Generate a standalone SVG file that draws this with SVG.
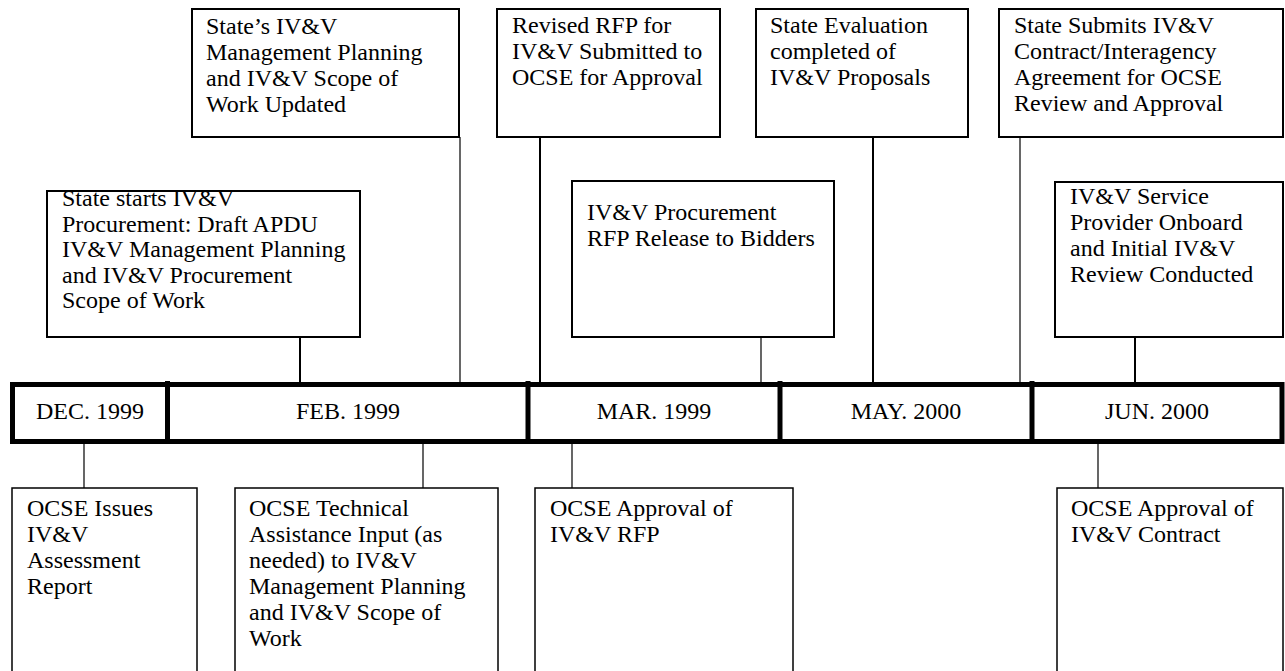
<svg xmlns="http://www.w3.org/2000/svg" width="1285" height="671" viewBox="0 0 1285 671">
<style>
text{font-family:"Liberation Serif","Times New Roman",serif;font-size:24px;fill:#000}
.box{fill:#fff;stroke:#000;stroke-width:2}
.boxb{fill:#fff;stroke:#000;stroke-width:1.5}
.c1{stroke:#000;stroke-width:1.2;fill:none}
.c2{stroke:#000;stroke-width:2;fill:none}
.bar{fill:none;stroke:#000;stroke-width:5}
.mid{text-anchor:middle}
</style>
<rect width="1285" height="671" fill="#fff"/>
<g id="connectors">
<line class="c2" x1="300" y1="337" x2="300" y2="383"/>
<line class="c1" x1="460" y1="137" x2="460" y2="383"/>
<line class="c2" x1="540" y1="137" x2="540" y2="383"/>
<line class="c1" x1="761" y1="337" x2="761" y2="383"/>
<line class="c2" x1="873" y1="137" x2="873" y2="383"/>
<line class="c1" x1="1020" y1="137" x2="1020" y2="383"/>
<line class="c2" x1="1135" y1="337" x2="1135" y2="383"/>
<line class="c1" x1="84" y1="443" x2="84" y2="488"/>
<line class="c1" x1="423" y1="443" x2="423" y2="488"/>
<line class="c1" x1="572" y1="443" x2="572" y2="488"/>
<line class="c1" x1="1098" y1="443" x2="1098" y2="488"/>
</g>
<g id="timeline">
<rect class="bar" x="12.5" y="384.5" width="1269.5" height="57"/>
<line class="bar" x1="167.5" y1="381" x2="167.5" y2="444"/>
<line class="bar" x1="528" y1="381" x2="528" y2="444"/>
<line class="bar" x1="780" y1="381" x2="780" y2="444"/>
<line class="bar" x1="1032" y1="381" x2="1032" y2="444"/>
<text class="mid" x="90" y="419">DEC. 1999</text>
<text class="mid" x="348" y="419">FEB. 1999</text>
<text class="mid" x="654" y="419">MAR. 1999</text>
<text class="mid" x="906" y="419">MAY. 2000</text>
<text class="mid" x="1157" y="419">JUN. 2000</text>
</g>
<g id="t1">
<rect class="box" x="192" y="9" width="267" height="128"/>
<text x="206" y="34">State’s IV&amp;V</text>
<text x="206" y="60">Management Planning</text>
<text x="206" y="86">and IV&amp;V Scope of</text>
<text x="206" y="112">Work Updated</text>
</g>
<g id="t2">
<rect class="box" x="497" y="9" width="223" height="128"/>
<text x="512" y="33">Revised RFP for</text>
<text x="512" y="59">IV&amp;V Submitted to</text>
<text x="512" y="85">OCSE for Approval</text>
</g>
<g id="t3">
<rect class="box" x="756" y="9" width="212" height="128"/>
<text x="770" y="33">State Evaluation</text>
<text x="770" y="59">completed of</text>
<text x="770" y="85">IV&amp;V Proposals</text>
</g>
<g id="t4">
<rect class="box" x="999" y="9" width="284" height="128"/>
<text x="1014" y="33">State Submits IV&amp;V</text>
<text x="1014" y="59">Contract/Interagency</text>
<text x="1014" y="85">Agreement for OCSE</text>
<text x="1014" y="111">Review and Approval</text>
</g>
<g id="l1">
<rect class="box" x="47" y="191" width="313" height="146"/>
<text x="62" y="206">State starts IV&amp;V</text>
<text x="62" y="231.5">Procurement: Draft APDU</text>
<text x="62" y="257">IV&amp;V Management Planning</text>
<text x="62" y="282.5">and IV&amp;V Procurement</text>
<text x="62" y="308">Scope of Work</text>
</g>
<g id="m1">
<rect class="box" x="572" y="181" width="262" height="156"/>
<text x="587" y="220">IV&amp;V Procurement</text>
<text x="587" y="246">RFP Release to Bidders</text>
</g>
<g id="r1">
<rect class="box" x="1055" y="182" width="228" height="155"/>
<text x="1070" y="204">IV&amp;V Service</text>
<text x="1070" y="230">Provider Onboard</text>
<text x="1070" y="256">and Initial IV&amp;V</text>
<text x="1070" y="282">Review Conducted</text>
</g>
<g id="b1">
<rect class="boxb" x="12" y="488" width="185" height="200"/>
<text x="27" y="516">OCSE Issues</text>
<text x="27" y="542">IV&amp;V</text>
<text x="27" y="568">Assessment</text>
<text x="27" y="594">Report</text>
</g>
<g id="b2">
<rect class="boxb" x="235" y="488" width="263" height="200"/>
<text x="249" y="516">OCSE Technical</text>
<text x="249" y="542">Assistance Input (as</text>
<text x="249" y="568">needed) to IV&amp;V</text>
<text x="249" y="594">Management Planning</text>
<text x="249" y="620">and IV&amp;V Scope of</text>
<text x="249" y="646">Work</text>
</g>
<g id="b3">
<rect class="boxb" x="535" y="488" width="258" height="200"/>
<text x="550" y="516">OCSE Approval of</text>
<text x="550" y="542">IV&amp;V RFP</text>
</g>
<g id="b4">
<rect class="boxb" x="1057" y="488" width="226" height="200"/>
<text x="1071" y="516">OCSE Approval of</text>
<text x="1071" y="542">IV&amp;V Contract</text>
</g>
</svg>
